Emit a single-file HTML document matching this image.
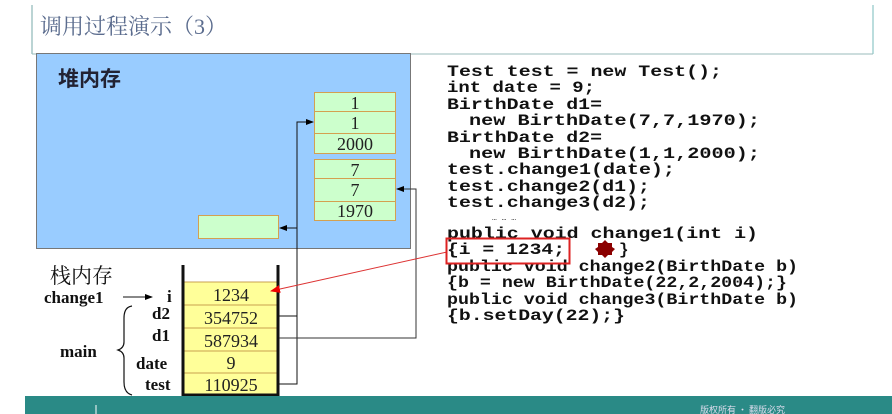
<!DOCTYPE html>
<html><head><meta charset="utf-8"><style>
html,body{margin:0;padding:0;background:#fff;width:892px;height:414px;overflow:hidden}
svg{display:block}
.c{font-family:"Liberation Mono",monospace;font-size:16px;font-weight:bold;fill:#111}
.n{font-family:"Liberation Serif",serif;font-size:18px;fill:#222;text-anchor:middle}
.b{font-family:"Liberation Serif",serif;font-size:17px;font-weight:bold;fill:#111}
</style></head><body>
<svg width="892" height="414" viewBox="0 0 892 414" xmlns="http://www.w3.org/2000/svg">
<defs>
<marker id="a" markerWidth="8" markerHeight="6" refX="7" refY="3" orient="auto" markerUnits="userSpaceOnUse"><path d="M0,0 L8,3 L0,6 z" fill="#000"/></marker>
<marker id="r" markerWidth="10" markerHeight="8" refX="9" refY="4" orient="auto" markerUnits="userSpaceOnUse"><path d="M0,0 L10,4 L0,8 z" fill="#e00"/></marker>
</defs>
<line x1="32" y1="5" x2="32" y2="54" stroke="#7aa" stroke-width="1"/>
<line x1="873" y1="5" x2="873" y2="54" stroke="#7bb" stroke-width="1"/>
<line x1="32" y1="54" x2="873" y2="54" stroke="#9bb" stroke-width="1"/>
<text x="40" y="34" font-family="'Liberation Serif','Noto Serif CJK SC',serif" font-size="22" fill="#5b6c8e">调用过程演示（3）</text>
<rect x="36.5" y="53.5" width="374" height="195" fill="#99ccff" stroke="#777" stroke-width="1"/>
<text x="58" y="86" font-family="'Noto Sans CJK SC',sans-serif" font-size="21" font-weight="bold" fill="#223">堆内存</text>
<g fill="#ccffcc" stroke="#d4a050" stroke-width="1">
<rect x="314.5" y="92.5" width="81" height="19"/><rect x="314.5" y="111.5" width="81" height="22"/><rect x="314.5" y="133.5" width="81" height="20"/>
<rect x="314.5" y="159.5" width="81" height="19"/><rect x="314.5" y="178.5" width="81" height="23"/><rect x="314.5" y="201.5" width="81" height="19"/>
<rect x="198.5" y="215.5" width="80" height="23"/>
</g>
<text class="n" x="355" y="109">1</text><text class="n" x="355" y="129">1</text><text class="n" x="355" y="150">2000</text>
<text class="n" x="355" y="176">7</text><text class="n" x="355" y="196">7</text><text class="n" x="355" y="217">1970</text>
<text x="50" y="283" font-family="'Noto Serif CJK SC',serif" font-size="21" fill="#111">栈内存</text>
<g fill="#ffff99" stroke="#c8a050" stroke-width="1">
<rect x="184" y="282" width="94" height="23"/><rect x="184" y="305" width="94" height="23"/><rect x="184" y="328" width="94" height="23"/><rect x="184" y="351" width="94" height="22"/><rect x="184" y="373" width="94" height="22"/>
</g>
<path d="M183,265 V395 H278 V265" fill="none" stroke="#111" stroke-width="3"/>
<text class="n" x="231" y="301">1234</text><text class="n" x="231" y="324">354752</text><text class="n" x="231" y="347">587934</text><text class="n" x="231" y="369">9</text><text class="n" x="231" y="391">110925</text>
<text class="b" x="44" y="303">change1</text>
<line x1="123" y1="297" x2="152" y2="297" stroke="#111" marker-end="url(#a)"/>
<text class="b" x="167" y="302">i</text>
<text class="b" x="152" y="319">d2</text>
<text class="b" x="152" y="341">d1</text>
<text class="b" x="60" y="357">main</text>
<text class="b" x="136" y="369">date</text>
<text class="b" x="145" y="390">test</text>
<path d="M132,306 Q124,307 124,318 V342 Q124,348 118,350 Q124,352 124,358 V382 Q124,393 132,395" fill="none" stroke="#111" stroke-width="1.2"/>
<path d="M279,384 H297 V122 H313" fill="none" stroke="#111" marker-end="url(#a)"/>
<path d="M279,316 H297 V228 H280" fill="none" stroke="#111" marker-end="url(#a)"/>
<path d="M279,338 H416 V189 H397" fill="none" stroke="#333" marker-end="url(#a)"/>
<line x1="447" y1="252" x2="271" y2="291" stroke="#d33" stroke-width="1" marker-end="url(#r)"/>
<g class="c">
<text x="447" y="76" textLength="275" lengthAdjust="spacingAndGlyphs">Test test = new Test();</text>
<text x="447" y="92" textLength="148" lengthAdjust="spacingAndGlyphs">int date = 9;</text>
<text x="447" y="109" textLength="155" lengthAdjust="spacingAndGlyphs">BirthDate d1=</text>
<text x="469" y="125" textLength="291" lengthAdjust="spacingAndGlyphs">new BirthDate(7,7,1970);</text>
<text x="447" y="142" textLength="155" lengthAdjust="spacingAndGlyphs">BirthDate d2=</text>
<text x="469" y="158" textLength="291" lengthAdjust="spacingAndGlyphs">new BirthDate(1,1,2000);</text>
<text x="447" y="174" textLength="228" lengthAdjust="spacingAndGlyphs">test.change1(date);</text>
<text x="447" y="191" textLength="203" lengthAdjust="spacingAndGlyphs">test.change2(d1);</text>
<text x="447" y="207" textLength="203" lengthAdjust="spacingAndGlyphs">test.change3(d2);</text>
<text x="492" y="220" font-size="8" font-weight="normal">…   …   …</text>
<text x="447" y="238" textLength="311" lengthAdjust="spacingAndGlyphs">public void change1(int i)</text>
<text x="447" y="254" textLength="118" lengthAdjust="spacingAndGlyphs">{i = 1234;</text>
<text x="619" y="254">}</text>
<text x="447" y="271" textLength="351" lengthAdjust="spacingAndGlyphs">public void change2(BirthDate b)</text>
<text x="447" y="287" textLength="340" lengthAdjust="spacingAndGlyphs">{b = new BirthDate(22,2,2004);}</text>
<text x="447" y="304" textLength="351" lengthAdjust="spacingAndGlyphs">public void change3(BirthDate b)</text>
<text x="447" y="320" textLength="178" lengthAdjust="spacingAndGlyphs">{b.setDay(22);}</text>
</g>
<rect x="446.5" y="238.5" width="123" height="25" fill="none" stroke="#d22" stroke-width="2"/>
<polygon points="605,240 608,243 612,243 612,247 615,249 612,252 612,255 608,255 605,258 602,255 598,255 598,252 595,249 598,247 598,243 602,243" fill="#8b0000"/>
<rect x="25" y="396" width="867" height="18" fill="#2a8a86"/>
<line x1="96" y1="405" x2="96" y2="414" stroke="#fff"/>
<text x="700" y="413" font-family="'Noto Sans CJK SC',sans-serif" font-size="9" fill="#dde">版权所有 · 翻版必究</text>
</svg>
</body></html>
